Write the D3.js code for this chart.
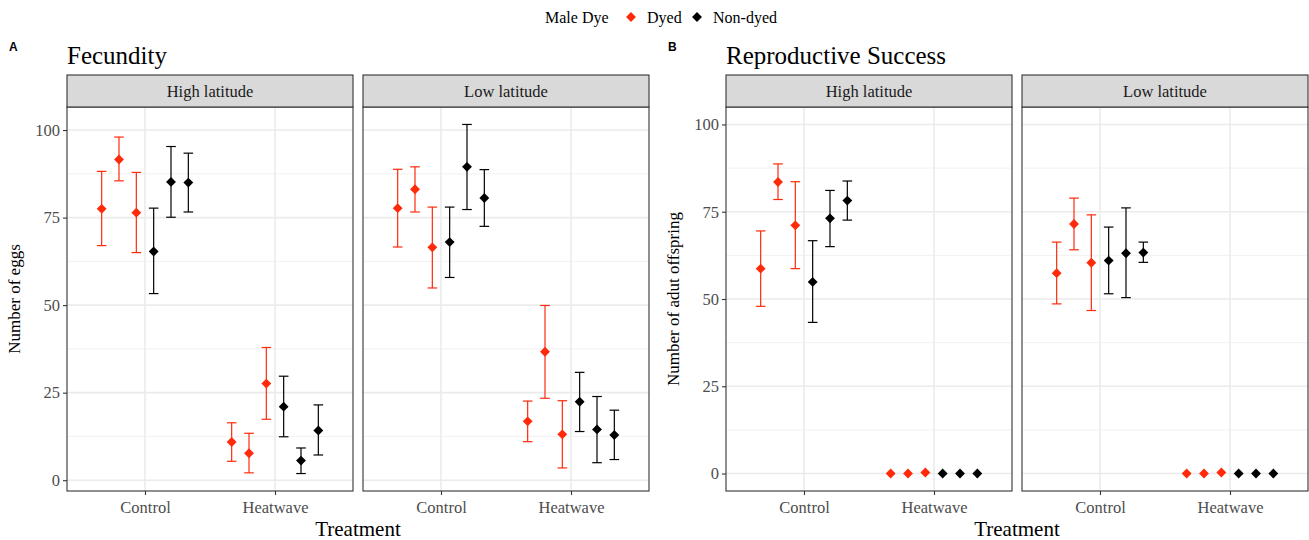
<!DOCTYPE html>
<html>

<head>
    <meta charset="utf-8">
    <title></title>
    <style>
        body {
            margin: 0;
            background: #fff;
        }

        text {
            font-family: "Liberation Serif", "Times New Roman", serif;
        }

        .tag {
            font-family: "Liberation Sans", Arial, sans-serif;
            font-weight: bold;
            font-size: 12px;
        }
    </style>
</head>

<body>
    <script src="https://d3js.org/d3.v7.min.js"></script>
    <script>
        var treatments = ["Control", "Heatwave"];
        var latitudes = ["High latitude", "Low latitude"];
        var dyes = ["Dyed", "Non-dyed"];
        // each facet: 6 control points then 6 heatwave points
        // (3 dyed, 3 non-dyed within each treatment)
        var pointDye = ["Dyed", "Dyed", "Dyed", "Non-dyed", "Non-dyed", "Non-dyed"];

        // Fecundity, high latitude
        var fecHighMean = [77.5, 91.6, 76.4, 65.3, 85.2, 85.0, 10.9, 7.7, 27.6, 21.0, 5.6, 14.2];
        var fecHighLow = [67.0, 85.5, 65.0, 53.3, 75.1, 76.6, 5.4, 2.1, 17.4, 12.4, 1.9, 7.2];
        var fecHighUp = [88.2, 98.0, 87.9, 77.7, 95.3, 93.4, 16.4, 13.4, 37.9, 29.7, 9.2, 21.5];

        // Fecundity, low latitude
        var fecLowMean = [77.7, 83.1, 66.5, 68.0, 89.5, 80.6, 16.8, 36.7, 13.1, 22.4, 14.5, 12.9];
        var fecLowLow = [66.6, 76.6, 54.9, 57.9, 77.3, 72.5, 11.0, 23.4, 3.5, 13.9, 5.0, 5.9];
        var fecLowUp = [88.8, 89.5, 78.0, 78.0, 101.6, 88.7, 22.6, 49.9, 22.7, 30.8, 23.9, 20.0];

        // Reproductive success, high latitude
        var repHighMean = [58.7, 83.5, 71.1, 54.9, 73.1, 78.2, 0, 0, 0.3, 0, 0, 0];
        var repHighLow = [47.9, 78.5, 58.7, 43.3, 65.0, 72.6, 0, 0, 0.3, 0, 0, 0];
        var repHighUp = [69.5, 88.7, 83.6, 66.7, 81.1, 83.8, 0, 0, 0.3, 0, 0, 0];

        // Reproductive success, low latitude
        var repLowMean = [57.4, 71.5, 60.4, 61.0, 63.1, 63.3, 0, 0, 0.3, 0, 0, 0];
        var repLowLow = [48.6, 64.1, 46.7, 51.5, 50.4, 60.5, 0, 0, 0.3, 0, 0, 0];
        var repLowUp = [66.3, 78.9, 74.1, 70.6, 76.1, 66.3, 0, 0, 0.3, 0, 0, 0];

        var yTicks = [0, 25, 50, 75, 100];
        var yMinor = [12.5, 37.5, 62.5, 87.5];

        var colour = d3.scaleOrdinal().domain(dyes).range(["#ff2a0a", "#000000"]);

        function rows(mean, low, up) {
            return mean.map(function(m, i) {
                return {
                    treatment: treatments[Math.floor(i / 6)],
                    slot: i % 6,
                    dye: pointDye[i % 6],
                    mean: m,
                    low: low[i],
                    up: up[i]
                };
            });
        }

        var width = 1309,
            height = 540;

        var svg = d3.select("body").append("svg")
            .attr("width", width)
            .attr("height", height);

        var plots = [{
            tag: "A",
            title: "Fecundity",
            yTitle: "Number of eggs",
            left: 67,
            facets: [rows(fecHighMean, fecHighLow, fecHighUp), rows(fecLowMean, fecLowLow, fecLowUp)],
            limits: null
        }, {
            tag: "B",
            title: "Reproductive Success",
            yTitle: "Number of adut offspring",
            left: 726,
            facets: [rows(repHighMean, repHighLow, repHighUp), rows(repLowMean, repLowLow, repLowUp)],
            limits: [0, 100]
        }];

        var facetW = 286,
            facetGap = 10,
            stripTop = 75,
            stripH = 32,
            plotTop = 107,
            plotBottom = 491;

        plots.forEach(function(p) {
            var g = svg.append("g");

            // y scale with ggplot style 5% expansion
            var lim = p.limits;
            if (!lim) {
                var all = d3.merge(p.facets);
                lim = [d3.min(all, function(d) { return d.low; }), d3.max(all, function(d) { return d.up; })];
            }
            var pad = (lim[1] - lim[0]) * 0.05;
            var y = d3.scaleLinear()
                .domain([lim[0] - pad, lim[1] + pad])
                .range([plotBottom, plotTop]);

            g.append("text")
                .attr("class", "tag")
                .attr("x", p.left - 58)
                .attr("y", 51)
                .text(p.tag);

            g.append("text")
                .attr("x", p.left)
                .attr("y", 64)
                .attr("font-size", 25)
                .attr("fill", "#000")
                .text(p.title);

            p.facets.forEach(function(data, fi) {
                var x0 = p.left + fi * (facetW + facetGap);
                var x = d3.scaleLinear().domain([0.4, 2.6]).range([x0, x0 + facetW]);
                var pos = function(d) {
                    return x(treatments.indexOf(d.treatment) + 1 + (d.slot - 2.5) * 0.8 / 6);
                };
                var fg = g.append("g");

                // grid
                fg.selectAll(".minor").data(yMinor).enter().append("line")
                    .attr("x1", x0).attr("x2", x0 + facetW)
                    .attr("y1", y).attr("y2", y)
                    .attr("stroke", "#ededed").attr("stroke-width", 0.8);
                fg.selectAll(".major").data(yTicks).enter().append("line")
                    .attr("x1", x0).attr("x2", x0 + facetW)
                    .attr("y1", y).attr("y2", y)
                    .attr("stroke", "#ebebeb").attr("stroke-width", 1.6);
                fg.selectAll(".xmajor").data(treatments).enter().append("line")
                    .attr("x1", function(d, i) { return x(i + 1); })
                    .attr("x2", function(d, i) { return x(i + 1); })
                    .attr("y1", plotTop).attr("y2", plotBottom)
                    .attr("stroke", "#ebebeb").attr("stroke-width", 1.6);

                // error bars
                var bars = data.filter(function(d) { return d.up > d.low; });
                var eb = fg.selectAll(".eb").data(bars).enter().append("g")
                    .attr("stroke", function(d) { return colour(d.dye); })
                    .attr("stroke-width", 1.2);
                eb.append("line")
                    .attr("x1", pos).attr("x2", pos)
                    .attr("y1", function(d) { return y(d.low); })
                    .attr("y2", function(d) { return y(d.up); });
                [ "low", "up" ].forEach(function(k) {
                    eb.append("line")
                        .attr("x1", function(d) { return pos(d) - 4.8; })
                        .attr("x2", function(d) { return pos(d) + 4.8; })
                        .attr("y1", function(d) { return y(d[k]); })
                        .attr("y2", function(d) { return y(d[k]); });
                });

                // points
                fg.selectAll(".pt").data(data).enter().append("path")
                    .attr("d", d3.symbol().type(d3.symbolDiamond2).size(62))
                    .attr("transform", function(d) {
                        return "translate(" + pos(d) + "," + y(d.mean) + ")";
                    })
                    .attr("fill", function(d) { return colour(d.dye); });

                // panel border
                fg.append("rect")
                    .attr("x", x0).attr("y", plotTop)
                    .attr("width", facetW).attr("height", plotBottom - plotTop)
                    .attr("fill", "none").attr("stroke", "#333").attr("stroke-width", 1.1);

                // strip
                fg.append("rect")
                    .attr("x", x0).attr("y", stripTop)
                    .attr("width", facetW).attr("height", stripH)
                    .attr("fill", "#d9d9d9").attr("stroke", "#333").attr("stroke-width", 1.1);
                fg.append("text")
                    .attr("x", x0 + facetW / 2)
                    .attr("y", stripTop + stripH / 2 + 5.5)
                    .attr("text-anchor", "middle")
                    .attr("font-size", 16.5)
                    .attr("fill", "#1a1a1a")
                    .text(latitudes[fi]);

                // x axis
                var xa = fg.append("g")
                    .attr("transform", "translate(0," + plotBottom + ")")
                    .call(d3.axisBottom(x).tickValues([1, 2])
                        .tickFormat(function(d) { return treatments[d - 1]; })
                        .tickSize(4).tickPadding(6));
                xa.select(".domain").remove();
                xa.selectAll("line").attr("stroke", "#333").attr("stroke-width", 1.1);
                xa.selectAll("text")
                    .attr("font-family", "Liberation Serif")
                    .attr("font-size", 16.5)
                    .attr("fill", "#4d4d4d");

                // y axis on first facet only
                if (fi === 0) {
                    var ya = fg.append("g")
                        .attr("transform", "translate(" + x0 + ",0)")
                        .call(d3.axisLeft(y).tickValues(yTicks).tickSize(4).tickPadding(3));
                    ya.select(".domain").remove();
                    ya.selectAll("line").attr("stroke", "#333").attr("stroke-width", 1.1);
                    ya.selectAll("text")
                        .attr("font-family", "Liberation Serif")
                        .attr("font-size", 16.5)
                        .attr("fill", "#4d4d4d");
                }
            });

            // axis titles
            g.append("text")
                .attr("transform", "translate(" + (p.left - 47) + "," + ((plotTop + plotBottom) / 2) + ") rotate(-90)")
                .attr("text-anchor", "middle")
                .attr("font-size", 17)
                .attr("fill", "#000")
                .text(p.yTitle);

            g.append("text")
                .attr("x", p.left + facetW + facetGap / 2)
                .attr("y", 536)
                .attr("text-anchor", "middle")
                .attr("font-size", 21)
                .attr("fill", "#000")
                .text("Treatment");
        });

        // legend
        var legend = svg.append("g");
        legend.append("text")
            .attr("x", 545).attr("y", 23)
            .attr("font-size", 16)
            .text("Male Dye");
        var legendX = [631, 697];
        dyes.forEach(function(d, i) {
            legend.append("path")
                .attr("d", d3.symbol().type(d3.symbolDiamond2).size(62))
                .attr("transform", "translate(" + legendX[i] + ",17)")
                .attr("fill", colour(d));
            legend.append("text")
                .attr("x", legendX[i] + 16).attr("y", 23)
                .attr("font-size", 16)
                .text(d);
        });
    </script>
</body>

</html>
